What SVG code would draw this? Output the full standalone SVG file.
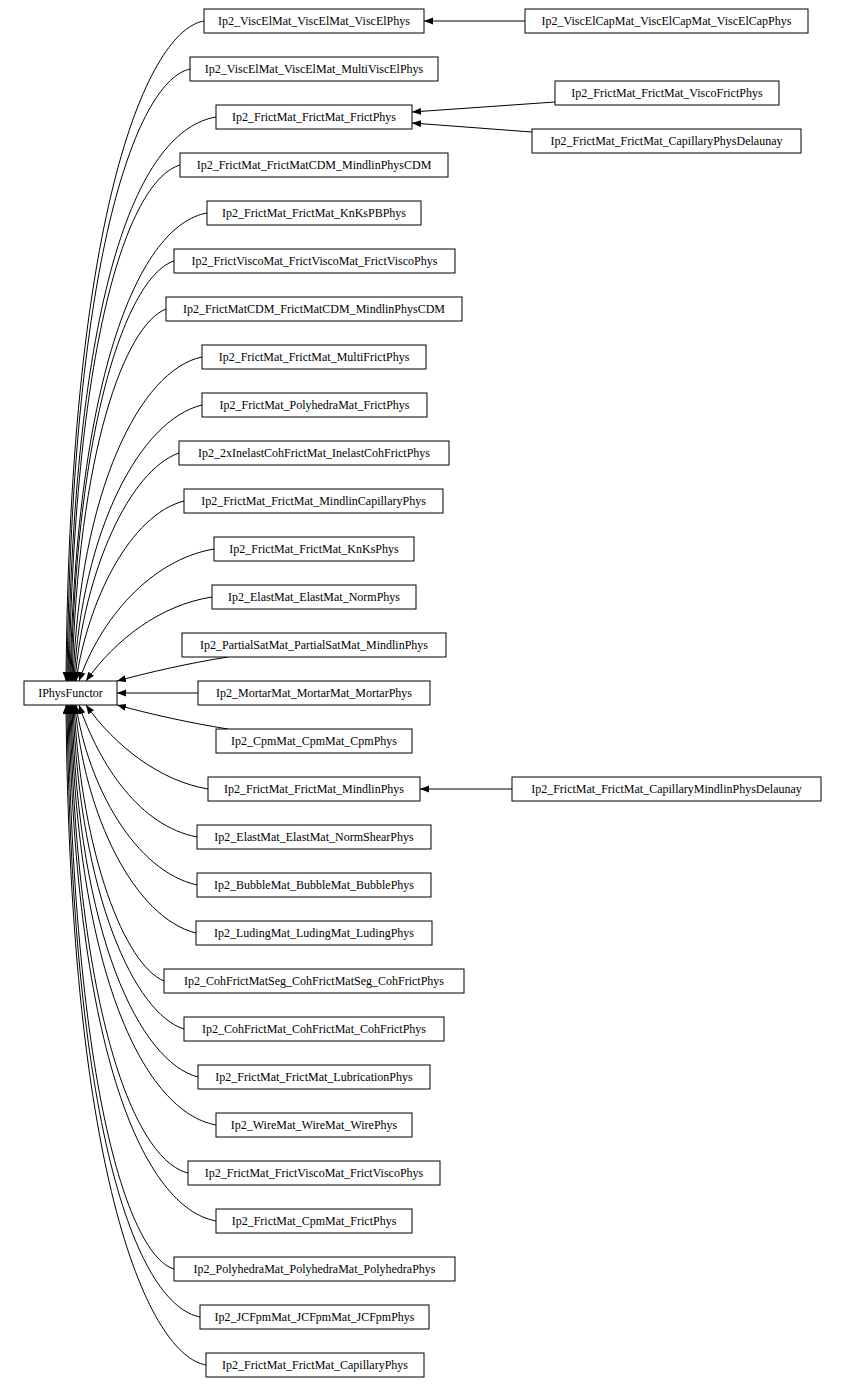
<svg xmlns="http://www.w3.org/2000/svg" width="846" height="1388" viewBox="0 0 846 1388">
<style>
.n rect{fill:#fff;stroke:#000;stroke-width:1}
text{font-family:"Liberation Serif",serif;font-size:12px;text-anchor:middle;fill:#000}
path{fill:none;stroke:#000;stroke-width:1}
</style>
<defs><marker id="a" markerUnits="userSpaceOnUse" markerWidth="10" markerHeight="8" refX="9" refY="3.5" orient="auto"><polygon points="0,0 9,3.5 0,7" fill="#000"/></marker></defs>
<rect width="846" height="1388" style="fill:#fff;stroke:none"/>
<g id="connectors">
<path marker-end="url(#a)" d="M204,21 C150,30 70,200 66,681"/>
<path marker-end="url(#a)" d="M190,69 C140,80 72,240 67,681"/>
<path marker-end="url(#a)" d="M216,117 C140,130 74,280 68,681"/>
<path marker-end="url(#a)" d="M180,165 C130,180 75,330 69,681"/>
<path marker-end="url(#a)" d="M207,213 C140,225 77,370 70,681"/>
<path marker-end="url(#a)" d="M174,261 C130,275 77,410 71,681"/>
<path marker-end="url(#a)" d="M166,309 C125,325 78,450 72,681"/>
<path marker-end="url(#a)" d="M202,357 C140,370 80,490 73,681"/>
<path marker-end="url(#a)" d="M202,405 C140,420 82,530 74,681"/>
<path marker-end="url(#a)" d="M179,453 C130,470 84,570 75,681"/>
<path marker-end="url(#a)" d="M184,501 C130,515 88,600 76,681"/>
<path marker-end="url(#a)" d="M214,549 C150,560 100,620 79,681"/>
<path marker-end="url(#a)" d="M212,597 C160,605 115,640 86,681"/>
<path marker-end="url(#a)" d="M228,657 C190,663 150,672 117,681"/>
<path marker-end="url(#a)" d="M198,693 L117,693"/>
<path marker-end="url(#a)" d="M228,729 C190,723 150,714 117,705"/>
<path marker-end="url(#a)" d="M208,789 C160,781 115,746 86,705"/>
<path marker-end="url(#a)" d="M197,837 C140,826 100,766 79,705"/>
<path marker-end="url(#a)" d="M197,885 C135,871 88,786 76,705"/>
<path marker-end="url(#a)" d="M196,933 C135,918 84,816 75,705"/>
<path marker-end="url(#a)" d="M164,981 C125,965 82,856 74,705"/>
<path marker-end="url(#a)" d="M184,1029 C135,1014 80,896 73,705"/>
<path marker-end="url(#a)" d="M198,1077 C140,1062 78,936 72,705"/>
<path marker-end="url(#a)" d="M216,1125 C145,1112 77,976 71,705"/>
<path marker-end="url(#a)" d="M188,1173 C135,1160 77,1016 70,705"/>
<path marker-end="url(#a)" d="M216,1221 C145,1208 75,1056 69,705"/>
<path marker-end="url(#a)" d="M174,1269 C130,1256 74,1096 68,705"/>
<path marker-end="url(#a)" d="M200,1317 C140,1305 72,1146 67,705"/>
<path marker-end="url(#a)" d="M206,1365 C150,1355 70,1186 66,705"/>
<path marker-end="url(#a)" d="M525,21 L424,21"/>
<path marker-end="url(#a)" d="M555,102 L412,112"/>
<path marker-end="url(#a)" d="M532,132 L412,123"/>
<path marker-end="url(#a)" d="M512,789 L420,789"/>
</g>
<g id="n_base" class="n"><rect x="24" y="681" width="93" height="24"/><text x="70.5" y="697">IPhysFunctor</text></g>
<g id="n0" class="n"><rect x="204" y="9" width="220" height="24"/><text x="314" y="25">Ip2_ViscElMat_ViscElMat_ViscElPhys</text></g>
<g id="n1" class="n"><rect x="190" y="57" width="248" height="24"/><text x="314" y="73">Ip2_ViscElMat_ViscElMat_MultiViscElPhys</text></g>
<g id="n2" class="n"><rect x="216" y="105" width="196" height="24"/><text x="314" y="121">Ip2_FrictMat_FrictMat_FrictPhys</text></g>
<g id="n3" class="n"><rect x="180" y="153" width="268" height="24"/><text x="314" y="169">Ip2_FrictMat_FrictMatCDM_MindlinPhysCDM</text></g>
<g id="n4" class="n"><rect x="207" y="201" width="214" height="24"/><text x="314" y="217">Ip2_FrictMat_FrictMat_KnKsPBPhys</text></g>
<g id="n5" class="n"><rect x="174" y="249" width="281" height="24"/><text x="314.5" y="265">Ip2_FrictViscoMat_FrictViscoMat_FrictViscoPhys</text></g>
<g id="n6" class="n"><rect x="166" y="297" width="296" height="24"/><text x="314" y="313">Ip2_FrictMatCDM_FrictMatCDM_MindlinPhysCDM</text></g>
<g id="n7" class="n"><rect x="202" y="345" width="224" height="24"/><text x="314" y="361">Ip2_FrictMat_FrictMat_MultiFrictPhys</text></g>
<g id="n8" class="n"><rect x="202" y="393" width="225" height="24"/><text x="314.5" y="409">Ip2_FrictMat_PolyhedraMat_FrictPhys</text></g>
<g id="n9" class="n"><rect x="179" y="441" width="270" height="24"/><text x="314" y="457">Ip2_2xInelastCohFrictMat_InelastCohFrictPhys</text></g>
<g id="n10" class="n"><rect x="184" y="489" width="259" height="24"/><text x="313.5" y="505">Ip2_FrictMat_FrictMat_MindlinCapillaryPhys</text></g>
<g id="n11" class="n"><rect x="214" y="537" width="200" height="24"/><text x="314" y="553">Ip2_FrictMat_FrictMat_KnKsPhys</text></g>
<g id="n12" class="n"><rect x="212" y="585" width="204" height="24"/><text x="314" y="601">Ip2_ElastMat_ElastMat_NormPhys</text></g>
<g id="n13" class="n"><rect x="182" y="633" width="264" height="24"/><text x="314" y="649">Ip2_PartialSatMat_PartialSatMat_MindlinPhys</text></g>
<g id="n14" class="n"><rect x="198" y="681" width="232" height="24"/><text x="314" y="697">Ip2_MortarMat_MortarMat_MortarPhys</text></g>
<g id="n15" class="n"><rect x="216" y="729" width="196" height="24"/><text x="314" y="745">Ip2_CpmMat_CpmMat_CpmPhys</text></g>
<g id="n16" class="n"><rect x="208" y="777" width="212" height="24"/><text x="314" y="793">Ip2_FrictMat_FrictMat_MindlinPhys</text></g>
<g id="n17" class="n"><rect x="197" y="825" width="234" height="24"/><text x="314" y="841">Ip2_ElastMat_ElastMat_NormShearPhys</text></g>
<g id="n18" class="n"><rect x="197" y="873" width="234" height="24"/><text x="314" y="889">Ip2_BubbleMat_BubbleMat_BubblePhys</text></g>
<g id="n19" class="n"><rect x="196" y="921" width="236" height="24"/><text x="314" y="937">Ip2_LudingMat_LudingMat_LudingPhys</text></g>
<g id="n20" class="n"><rect x="164" y="969" width="300" height="24"/><text x="314" y="985">Ip2_CohFrictMatSeg_CohFrictMatSeg_CohFrictPhys</text></g>
<g id="n21" class="n"><rect x="184" y="1017" width="260" height="24"/><text x="314" y="1033">Ip2_CohFrictMat_CohFrictMat_CohFrictPhys</text></g>
<g id="n22" class="n"><rect x="198" y="1065" width="232" height="24"/><text x="314" y="1081">Ip2_FrictMat_FrictMat_LubricationPhys</text></g>
<g id="n23" class="n"><rect x="216" y="1113" width="196" height="24"/><text x="314" y="1129">Ip2_WireMat_WireMat_WirePhys</text></g>
<g id="n24" class="n"><rect x="188" y="1161" width="252" height="24"/><text x="314" y="1177">Ip2_FrictMat_FrictViscoMat_FrictViscoPhys</text></g>
<g id="n25" class="n"><rect x="216" y="1209" width="196" height="24"/><text x="314" y="1225">Ip2_FrictMat_CpmMat_FrictPhys</text></g>
<g id="n26" class="n"><rect x="174" y="1257" width="281" height="24"/><text x="314.5" y="1273">Ip2_PolyhedraMat_PolyhedraMat_PolyhedraPhys</text></g>
<g id="n27" class="n"><rect x="200" y="1305" width="229" height="24"/><text x="314.5" y="1321">Ip2_JCFpmMat_JCFpmMat_JCFpmPhys</text></g>
<g id="n28" class="n"><rect x="206" y="1353" width="218" height="24"/><text x="315" y="1369">Ip2_FrictMat_FrictMat_CapillaryPhys</text></g>
<g id="r0" class="n"><rect x="525" y="9" width="283" height="24"/><text x="666.5" y="25">Ip2_ViscElCapMat_ViscElCapMat_ViscElCapPhys</text></g>
<g id="r1" class="n"><rect x="555" y="81" width="224" height="24"/><text x="667" y="97">Ip2_FrictMat_FrictMat_ViscoFrictPhys</text></g>
<g id="r2" class="n"><rect x="532" y="129" width="269" height="24"/><text x="666.5" y="145">Ip2_FrictMat_FrictMat_CapillaryPhysDelaunay</text></g>
<g id="r3" class="n"><rect x="512" y="777" width="309" height="24"/><text x="666.5" y="793">Ip2_FrictMat_FrictMat_CapillaryMindlinPhysDelaunay</text></g>
</svg>
